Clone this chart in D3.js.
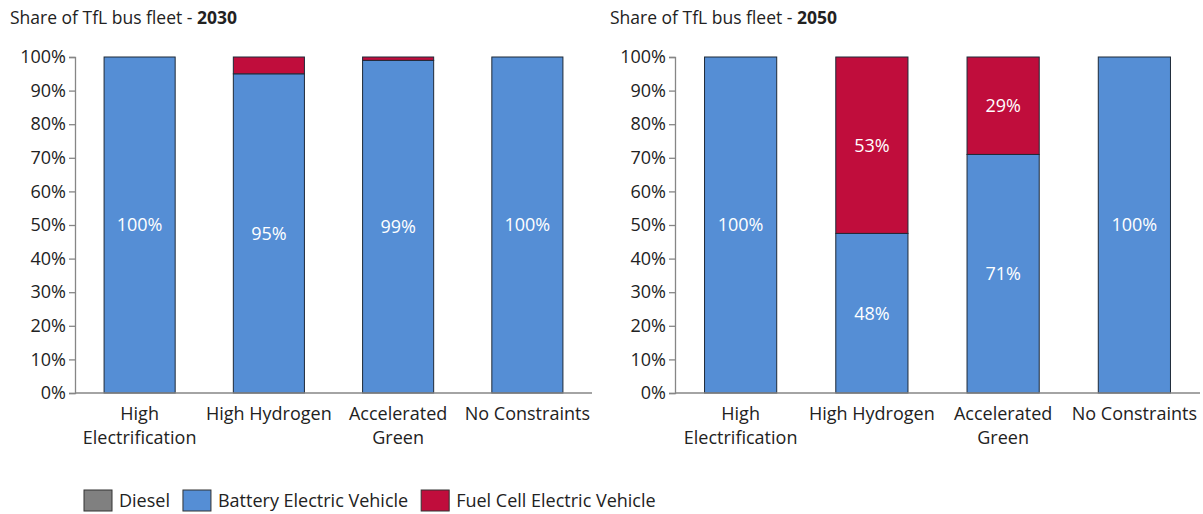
<!DOCTYPE html>
<html>
<head>
<meta charset="utf-8">
<script src="https://cdn.jsdelivr.net/npm/d3@7"></script>
<style>
  body { margin: 0; background: #fff; }
  svg { display: block; font-family: "Open Sans", sans-serif; }
</style>
</head>
<body>
<svg id="chart" width="1203" height="514"></svg>
<script>
const scenarios = ["High Electrification", "High Hydrogen", "Accelerated Green", "No Constraints"];
const seriesNames = ["Diesel", "Battery Electric Vehicle", "Fuel Cell Electric Vehicle"];
const seriesColors = ["#808080", "#558ed5", "#c00d3c"];

// share of fleet, %
const diesel2030 = [0, 0, 0, 0];
const bev2030 = [100, 95, 99, 100];
const fcev2030 = [0, 5, 1, 0];

const diesel2050 = [0, 0, 0, 0];
const bev2050 = [100, 47.5, 71, 100];
const fcev2050 = [0, 52.5, 29, 0];

const yTicks = [0, 10, 20, 30, 40, 50, 60, 70, 80, 90, 100];

const svg = d3.select("#chart");
const fontSize = 18;

function drawPanel(year, diesel, bev, fcev, left, right, labelMin) {
	const top = 57, bottom = 393;
	const g = svg.append("g");

	const rows = scenarios.map((s, i) => ({
		scenario: s,
		"Diesel": diesel[i],
		"Battery Electric Vehicle": bev[i],
		"Fuel Cell Electric Vehicle": fcev[i]
	}));

	const x = d3.scaleBand()
		.domain(scenarios)
		.range([left, right])
		.paddingInner(0.45)
		.paddingOuter(0.225);

	const y = d3.scaleLinear()
		.domain([0, 100])
		.range([bottom, top]);

	// title
	const title = g.append("text")
		.attr("x", left - 65)
		.attr("y", 24)
		.attr("font-size", 17.5)
		.attr("fill", "#222");
	title.append("tspan").text("Share of TfL bus fleet - ");
	title.append("tspan").attr("font-weight", "bold").text(year);

	// y axis
	const yAxis = g.append("g")
		.attr("transform", `translate(${left},0)`)
		.call(d3.axisLeft(y).tickValues(yTicks).tickSize(6).tickFormat(d => d + "%"));
	yAxis.select(".domain").attr("stroke", "#868686").attr("stroke-width", 1.3);
	yAxis.selectAll(".tick line").attr("stroke", "#868686").attr("stroke-width", 1.3);
	yAxis.selectAll("text")
		.attr("font-size", fontSize)
		.attr("font-family", "'Open Sans', sans-serif")
		.attr("fill", "#222")
		.attr("x", -9);

	const stack = d3.stack().keys(seriesNames);
	const layers = stack(rows);

	layers.forEach((layer, k) => {
		g.append("g")
			.selectAll("rect")
			.data(layer.filter(d => d[1] - d[0] > 0))
			.join("rect")
			.attr("x", d => x(d.data.scenario))
			.attr("y", d => y(d[1]))
			.attr("width", x.bandwidth())
			.attr("height", d => y(d[0]) - y(d[1]))
			.attr("fill", seriesColors[k])
			.attr("stroke", "#1e2a38")
			.attr("stroke-width", 1);

		g.append("g")
			.selectAll("text")
			.data(layer.filter(d => d[1] - d[0] >= labelMin))
			.join("text")
			.attr("x", d => x(d.data.scenario) + x.bandwidth() / 2)
			.attr("y", d => y((d[0] + d[1]) / 2))
			.attr("dy", "0.35em")
			.attr("text-anchor", "middle")
			.attr("font-size", fontSize)
			.attr("fill", "#fff")
			.text(d => Math.round(d[1] - d[0]) + "%");
	});

	// x axis line
	g.append("line")
		.attr("x1", left).attr("x2", right)
		.attr("y1", y(0)).attr("y2", y(0))
		.attr("stroke", "#868686")
		.attr("stroke-width", 1.3);

	// category labels, wrapped
	const wrapped = {
		"High Electrification": ["High", "Electrification"],
		"High Hydrogen": ["High Hydrogen"],
		"Accelerated Green": ["Accelerated", "Green"],
		"No Constraints": ["No Constraints"]
	};
	scenarios.forEach(s => {
		const t = g.append("text")
			.attr("x", x(s) + x.bandwidth() / 2)
			.attr("y", bottom + 27)
			.attr("text-anchor", "middle")
			.attr("font-size", fontSize)
			.attr("fill", "#222");
		wrapped[s].forEach((line, i) => {
			t.append("tspan")
				.attr("x", x(s) + x.bandwidth() / 2)
				.attr("dy", i === 0 ? 0 : 24)
				.text(line);
		});
	});
}

drawPanel("2030", diesel2030, bev2030, fcev2030, 75, 592, 10);
drawPanel("2050", diesel2050, bev2050, fcev2050, 675, 1200, 10);

// legend
const legend = svg.append("g").attr("transform", "translate(84,490)");
let lx = 0;
seriesNames.forEach((name, i) => {
	const item = legend.append("g").attr("transform", `translate(${lx},0)`);
	item.append("rect")
		.attr("width", 28).attr("height", 21)
		.attr("fill", seriesColors[i])
		.attr("stroke", "#333")
		.attr("stroke-width", 1);
	const t = item.append("text")
		.attr("x", 35).attr("y", 11)
		.attr("dy", "0.35em")
		.attr("font-size", fontSize)
		.attr("fill", "#222")
		.text(name);
	lx += 35 + t.node().getComputedTextLength() + 13;
});
</script>
</body>
</html>
